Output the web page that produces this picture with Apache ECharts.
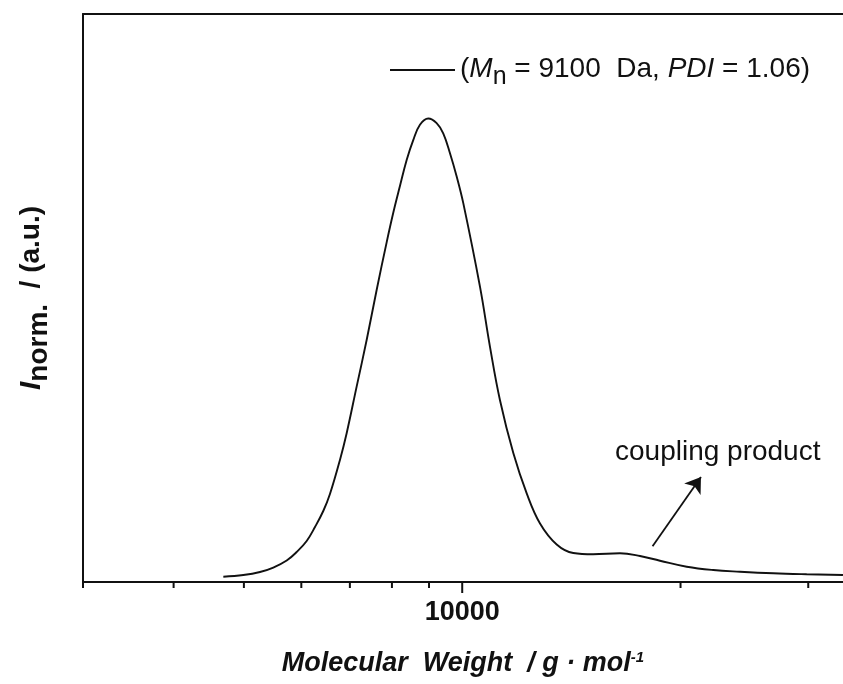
<!DOCTYPE html>
<html>
<head>
<meta charset="utf-8">
<script src="https://cdn.jsdelivr.net/npm/echarts@6/dist/echarts.min.js"></script>
<style>
  html, body { margin: 0; padding: 0; background: #fff; }
  #chart { width: 843px; height: 684px; }
</style>
</head>
<body>
<div id="chart"></div>
<script>
// GPC trace: molecular weight (g/mol) vs normalized intensity
var molWeight = [4684, 4991, 5262, 5489, 5728, 5912, 6103, 6266, 6433, 6571, 6783, 6929, 7152, 7383, 7621, 7867,
  8034, 8206, 8383, 8560, 8744, 8978, 9220, 9415, 9619, 9826, 10034, 10580, 10922, 11274, 11761, 12272,
  12802, 13498, 14228, 15156, 16502, 17585, 18735, 20396, 22190, 24153, 26850, 29850, 33497]
var intensity = [0.0093, 0.0123, 0.0176, 0.0255, 0.0379, 0.0528, 0.0722, 0.0968, 0.125, 0.155, 0.215, 0.262, 0.344, 0.426, 0.514, 0.598,
  0.650, 0.697, 0.743, 0.778, 0.805, 0.816, 0.808, 0.790, 0.755, 0.714, 0.667, 0.520, 0.414, 0.320, 0.227, 0.156,
  0.103, 0.066, 0.051, 0.0488, 0.0505, 0.0458, 0.0375, 0.0269, 0.0211, 0.0181, 0.0153, 0.0136, 0.0123]
var majorTicks = [10000]
var minorTicks = [3000, 4000, 5000, 6000, 7000, 8000, 9000, 20000, 30000]
// arrow pointing at the coupling product shoulder
var arrowFrom = [18300, 0.063]
var arrowTo = [21340, 0.185]

var FONT = '"Liberation Sans", Arial, sans-serif'
var INK = '#111'

var points = []
for (var i = 0; i < molWeight.length; i++) {
  points.push([molWeight[i], intensity[i]])
}

// ticks are drawn by hand so that 10000 gets a longer one
function tickRenderer (len) {
  return function (params, api) {
    var p = api.coord([api.value(0), 0])
    return {
      type: 'line',
      shape: { x1: p[0], y1: p[1], x2: p[0], y2: p[1] + len },
      style: { stroke: INK, lineWidth: 2 }
    }
  }
}

var chart = echarts.init(document.getElementById('chart'))
var option = {
  backgroundColor: '#fff',
  animation: false,
  grid: { left: 83, right: 0, top: 14, bottom: 102, outerBoundsMode: 'none' },
  legend: {
    data: ['trace'],
    left: 385,
    top: 50,
    icon: 'rect',
    itemWidth: 65,
    itemHeight: 2,
    itemStyle: { color: INK },
    formatter: function () {
      return '{a|(}{i|M}{s|n}{a| = 9100  Da, }{i|PDI}{a| = 1.06)}'
    },
    textStyle: {
      fontFamily: FONT,
      color: INK,
      rich: {
        a: { fontSize: 28, fontFamily: FONT, color: INK, lineHeight: 30, verticalAlign: 'top' },
        i: { fontSize: 28, fontFamily: FONT, color: INK, fontStyle: 'italic', lineHeight: 30, verticalAlign: 'top' },
        s: { fontSize: 25, fontFamily: FONT, color: INK, lineHeight: 30, verticalAlign: 'top', padding: [10, 0, 0, 0] }
      }
    }
  },
  xAxis: [{
    type: 'log',
    logBase: 10,
    min: 3000,
    max: 33500,
    name: '{t|Molecular  Weight  / g · mol}{u|-1}',
    nameLocation: 'middle',
    nameGap: 68,
    nameTextStyle: {
      rich: {
        t: { fontSize: 27, fontFamily: FONT, fontWeight: 'bold', fontStyle: 'italic', color: INK, lineHeight: 28, verticalAlign: 'middle' },
        u: { fontSize: 15, fontFamily: FONT, fontWeight: 'bold', fontStyle: 'italic', color: INK, lineHeight: 18, verticalAlign: 'top' }
      }
    },
    axisLine: { lineStyle: { color: INK, width: 2 } },
    axisTick: { show: false },
    splitLine: { show: false },
    minorSplitLine: { show: false },
    axisLabel: {
      margin: 17,
      fontSize: 27,
      fontWeight: 'bold',
      fontFamily: FONT,
      color: INK,
      formatter: function (v) { return Math.abs(v - 10000) < 1 ? '10000' : '' }
    }
  }, {
    type: 'log',
    logBase: 10,
    min: 3000,
    max: 33500,
    position: 'top',
    axisLine: { lineStyle: { color: INK, width: 2 } },
    axisTick: { show: false },
    axisLabel: { show: false },
    splitLine: { show: false }
  }],
  yAxis: {
    type: 'value',
    min: 0,
    max: 1,
    name: '{i|I}{s|norm.}{t|  / (a.u.)}',
    nameLocation: 'middle',
    nameRotate: 90,
    nameGap: 36,
    nameTextStyle: {
      rich: {
        i: { fontSize: 30, fontFamily: FONT, fontWeight: 'bold', fontStyle: 'italic', color: INK, lineHeight: 30, verticalAlign: 'top' },
        s: { fontSize: 28, fontFamily: FONT, fontWeight: 'bold', color: INK, lineHeight: 30, verticalAlign: 'top', padding: [8, 0, 0, 0] },
        t: { fontSize: 28, fontFamily: FONT, fontWeight: 'bold', color: INK, lineHeight: 30, verticalAlign: 'top' }
      }
    },
    axisLine: { show: true, lineStyle: { color: INK, width: 2 } },
    axisTick: { show: false },
    axisLabel: { show: false },
    splitLine: { show: false }
  },
  graphic: [{
    type: 'text',
    x: 615,
    y: 452,
    style: {
      text: 'coupling product',
      fontSize: 28,
      fontFamily: FONT,
      fill: INK,
      verticalAlign: 'middle'
    }
  }],
  series: [{
    name: 'trace',
    type: 'line',
    data: points,
    smooth: 0.4,
    symbol: 'none',
    lineStyle: { color: INK, width: 1.9 },
    itemStyle: { color: INK },
    markLine: {
      silent: true,
      symbol: ['none', 'arrow'],
      symbolSize: 15,
      label: { show: false },
      lineStyle: { color: INK, width: 1.8, type: 'solid' },
      data: [[{ coord: arrowFrom }, { coord: arrowTo }]]
    }
  }, {
    name: 'majorTicks',
    type: 'custom',
    renderItem: tickRenderer(11),
    data: majorTicks.map(function (v) { return [v, 0] }),
    clip: false
  }, {
    name: 'minorTicks',
    type: 'custom',
    renderItem: tickRenderer(6),
    data: minorTicks.map(function (v) { return [v, 0] }),
    clip: false
  }]
}
chart.setOption(option)
</script>
</body>
</html>
